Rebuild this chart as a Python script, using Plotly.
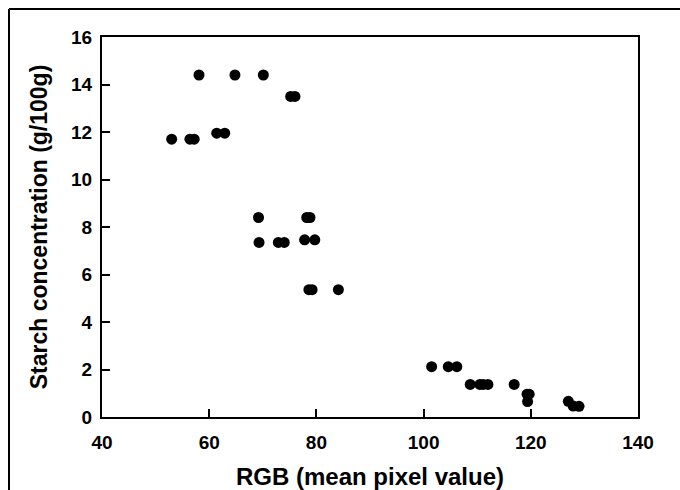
import plotly.graph_objects as go

rgb = [53.0, 56.4, 57.2, 61.4, 62.9, 58.1, 64.8, 70.1, 75.2, 76.0,
       69.2, 78.2, 78.8, 69.3, 72.9, 74.0, 77.8, 79.7, 78.6, 79.2, 84.1,
       101.5, 104.6, 106.2, 108.7, 110.5, 111.1, 112.0, 116.9,
       119.3, 119.7, 119.4, 127.0, 127.9, 129.0]
starch = [11.7, 11.7, 11.7, 11.95, 11.95, 14.4, 14.4, 14.4, 13.5, 13.5,
          8.4, 8.4, 8.4, 7.35, 7.35, 7.35, 7.46, 7.46, 5.36, 5.36, 5.36,
          2.12, 2.12, 2.12, 1.37, 1.37, 1.37, 1.37, 1.37,
          0.96, 0.96, 0.65, 0.66, 0.46, 0.45]

x_ticks = [40, 60, 80, 100, 120, 140]
y_ticks = [0, 2, 4, 6, 8, 10, 12, 14, 16]

fig = go.Figure(go.Scatter(
    x=rgb, y=starch, mode="markers",
    marker=dict(color="black", size=11, line=dict(width=0)),
))

L, R, T, B = 102, 42, 37, 73
W, H = 680, 490
pw, ph = W - L - R, H - T - B

def px(xp):
    return (xp - L) / pw

def py(yp):
    return (H - B - yp) / ph

tickfont = dict(family="Liberation Sans, Arial, sans-serif", size=19, color="black", weight="bold")
xtitlefont = dict(family="Liberation Sans, Arial, sans-serif", size=24, color="black", weight="bold")
ytitlefont = dict(family="Liberation Sans, Arial, sans-serif", size=23, color="black", weight="bold")

fig.update_layout(
    width=W, height=H,
    margin=dict(l=L, r=R, t=T, b=B, autoexpand=False),
    paper_bgcolor="white", plot_bgcolor="white",
    showlegend=False,
    xaxis=dict(range=[40, 140], tickvals=x_ticks, ticks="inside", ticklen=8, tickwidth=2,
               tickcolor="black", showline=True, linecolor="black", linewidth=2, mirror=True,
               showgrid=False, zeroline=False, tickfont=tickfont, ticklabelstandoff=7,
               automargin=False,
               title=dict(text="RGB (mean pixel value)", font=xtitlefont, standoff=18)),
    yaxis=dict(range=[0, 16], tickvals=y_ticks, ticks="inside", ticklen=8, tickwidth=2,
               tickcolor="black", showline=True, linecolor="black", linewidth=2, mirror=True,
               showgrid=False, zeroline=False, tickfont=tickfont, ticklabelstandoff=4,
               automargin=False,
               title=dict(text="Starch concentration (g/100g)", font=ytitlefont, standoff=17)),
    shapes=[
        dict(type="line", xref="paper", yref="paper", x0=px(9), y0=py(9), x1=px(680), y1=py(9),
             line=dict(color="black", width=2)),
        dict(type="line", xref="paper", yref="paper", x0=px(9), y0=py(9), x1=px(9), y1=py(490),
             line=dict(color="black", width=2)),
    ],
)

fig.write_html("out.html", config={"displayModeBar": False},
               post_script="document.body.style.margin='0';")
